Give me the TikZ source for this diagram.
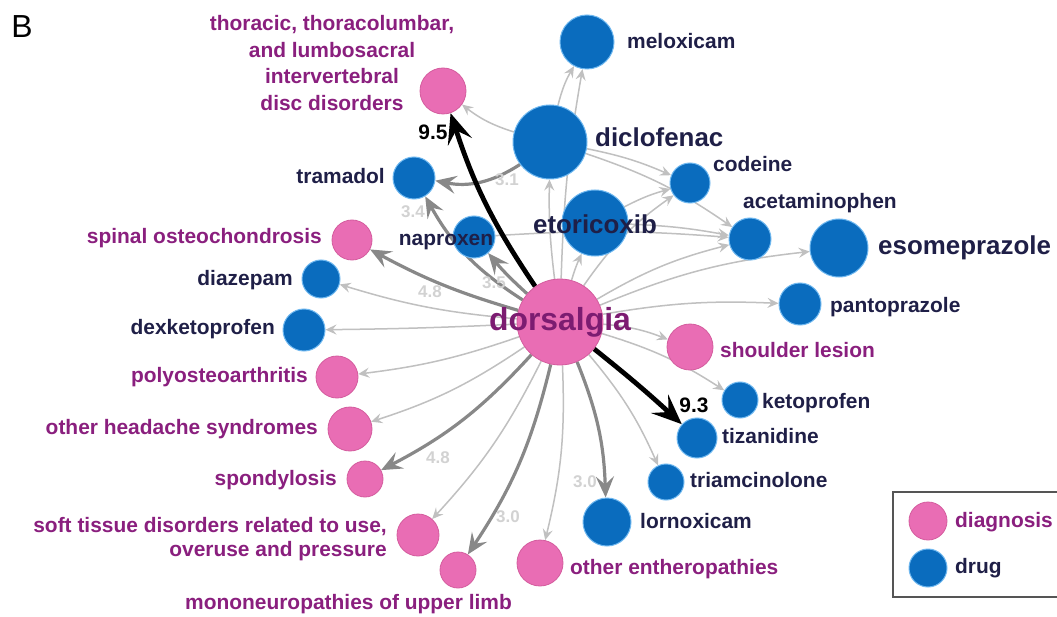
\documentclass[tikz,border=0pt]{standalone}
\usepackage{fontspec}
\setmainfont{Liberation Sans}
\usetikzlibrary{arrows.meta,backgrounds}
\definecolor{pinkF}{HTML}{E96DB4}
\definecolor{pinkD}{HTML}{D45C9E}
\definecolor{blueF}{HTML}{0A6CBE}
\definecolor{blueD}{HTML}{6FB8F0}
\definecolor{diagT}{HTML}{8A1F7E}
\definecolor{drugT}{HTML}{1F1F47}
\definecolor{lgray}{HTML}{C0C0C0}
\definecolor{mgray}{HTML}{888888}
\definecolor{wgray}{HTML}{D2D2D2}
\definecolor{boxD}{HTML}{555555}
\newcommand\labf{\fontsize{21}{25}\selectfont\bfseries}
\newcommand\bigf{\fontsize{26}{30}\selectfont\bfseries}
\newcommand\hugef{\fontsize{32}{36}\selectfont\bfseries}
\newcommand\wf{\fontsize{17}{20}\selectfont\bfseries}
\begin{document}
\begin{tikzpicture}[x=1bp,y=1bp,
  diag/.style={circle,fill=pinkF,draw=pinkD,line width=0.8bp,inner sep=0pt},
  drug/.style={circle,fill=blueF,draw=blueD,line width=1bp,inner sep=0pt},
  dl/.style={text=diagT,font=\labf,inner sep=0pt,text height=15bp,text depth=4bp},
  rl/.style={text=drugT,font=\labf,inner sep=0pt,text height=15bp,text depth=4bp},
  rlb/.style={text=drugT,font=\bigf,inner sep=0pt,text height=19bp,text depth=5bp},
  wl/.style={text=wgray,font=\wf,inner sep=0pt},
  bl/.style={text=black,font=\labf,inner sep=0pt},
  le/.style={draw=lgray,line width=1.5bp,-{Stealth[length=11bp,width=10bp,inset=4bp]}},
  me/.style={draw=mgray,line width=3.2bp,-{Stealth[length=21bp,width=18bp,inset=8bp]}},
  be/.style={draw=black,line width=4.8bp,-{Stealth[length=30bp,width=25bp,inset=12bp]}}
]
\useasboundingbox (0,0) rectangle (1057,-617);

% ---------- nodes ----------
\node[diag,minimum size=86bp] (D) at (560,-322) {};
\node[diag,minimum size=46bp] (thor) at (443,-91) {};
\node[drug,minimum size=54bp] (melox) at (587,-42) {};
\node[drug,minimum size=74bp] (diclo) at (550,-142) {};
\node[drug,minimum size=42bp] (tram) at (414,-178) {};
\node[drug,minimum size=40bp] (code) at (690,-183) {};
\node[drug,minimum size=66bp] (etor) at (595,-223) {};
\node[drug,minimum size=42bp] (napr) at (474,-237) {};
\node[drug,minimum size=42bp] (acet) at (750,-239) {};
\node[drug,minimum size=58bp] (esom) at (839,-248) {};
\node[drug,minimum size=42bp] (panto) at (800,-304) {};
\node[diag,minimum size=46bp] (shoul) at (690,-347) {};
\node[drug,minimum size=36bp] (keto) at (740,-400) {};
\node[drug,minimum size=40bp] (tiza) at (697,-438) {};
\node[drug,minimum size=36bp] (triam) at (666,-482) {};
\node[drug,minimum size=48bp] (lorno) at (607,-522) {};
\node[diag,minimum size=46bp] (entero) at (540,-563) {};
\node[diag,minimum size=36bp] (mono) at (458,-570) {};
\node[diag,minimum size=42bp] (soft) at (418,-535) {};
\node[diag,minimum size=36bp] (spond) at (365,-479) {};
\node[diag,minimum size=44bp] (heada) at (350,-429) {};
\node[diag,minimum size=42bp] (poly) at (337,-377) {};
\node[drug,minimum size=42bp] (dexk) at (304,-330) {};
\node[drug,minimum size=38bp] (diaz) at (321,-279) {};
\node[diag,minimum size=40bp] (spinal) at (352,-240) {};

% ---------- edges (behind nodes) ----------
\begin{scope}[on background layer]
\fill[white] (0,0) rectangle (1057,-617);
% light edges
\draw[le] (D) to[bend left=4] (melox);
\draw[le] (diclo) to[bend left=8] (melox);
\draw[le] (diclo) to[bend left=10] (thor);
\draw[le] (D) to[bend left=4] (diclo);
\draw[le] (D) to[bend left=4] (etor);
\draw[le] (D) to[bend left=10] (code);
\draw[le] (diclo) to[bend left=6] (code);
\draw[le] (etor) to[bend left=6] (code);
\draw[le] (diclo) to[bend left=8] (acet);
\draw[le] (etor) to[bend left=4] (acet);
\draw[le] (napr) to[bend left=4] (acet);
\draw[le] (D) to[bend left=8] (acet);
\draw[le] (D) to[bend left=8] (esom);
\draw[le] (D) to[bend left=6] (panto);
\draw[le] (D) to[bend left=8] (shoul);
\draw[le] (D) to[bend left=8] (keto);
\draw[le] (D) to[bend left=8] (triam);
\draw[le] (D) to[bend left=8] (entero);
\draw[le] (D) to[bend left=8] (soft);
\draw[le] (D) to[bend left=8] (heada);
\draw[le] (D) to[bend left=6] (poly);
\draw[le] (D) to[bend left=1] (dexk);
\draw[le] (D) to[bend left=6] (diaz);
% medium edges
\draw[me] (diclo) to[bend left=22] (tram);
\draw[me] (D) to[bend left=14] (tram);
\draw[me] (D) to[bend left=4] (napr);
\draw[me] (D) to[bend left=6] (spinal);
\draw[me] (D) to[bend left=10] (spond);
\draw[me] (D) to[bend left=10] (mono);
\draw[me] (D) to[bend left=10] (lorno);
% black edges
\draw[be] (D) to[bend left=8] (thor);
\draw[be] (D) to[bend left=2] (tiza);
\end{scope}

% ---------- labels ----------
\node[font=\fontsize{32}{36}\selectfont,inner sep=0pt] (B) at (22,-27) {B};
\node[dl,align=center,font=\fontsize{21}{27}\selectfont\bfseries,text height=,text depth=] (thorL) at (332,-63)
  {thoracic, thoracolumbar,\\and lumbosacral\\intervertebral\\disc disorders};
\node[rl,anchor=west] (meloxL) at (627,-43) {meloxicam};
\node[rlb,anchor=west] (dicloL) at (595,-140) {diclofenac};
\node[rl,anchor=east] (tramL) at (385,-178) {tramadol};
\node[rl,anchor=west] (codeL) at (713,-166) {codeine};
\node[rlb] (etorL) at (595,-227) {etoricoxib};
\node[rl] (naprL) at (446,-240) {naproxen};
\node[rl,anchor=west] (acetL) at (743,-203) {acetaminophen};
\node[rlb,anchor=west] (esomL) at (878,-248) {esomeprazole};
\node[rl,anchor=west] (pantoL) at (830,-307) {pantoprazole};
\node[dl,anchor=west] (shoulL) at (720,-352) {shoulder lesion};
\node[rl,anchor=west] (ketoL) at (762,-403) {ketoprofen};
\node[rl,anchor=west] (tizaL) at (722,-438) {tizanidine};
\node[rl,anchor=west] (triamL) at (690,-482) {triamcinolone};
\node[rl,anchor=west] (lornoL) at (640,-523) {lornoxicam};
\node[dl,anchor=west] (enteroL) at (570,-569) {other entheropathies};
\node[dl,anchor=west] (monoL) at (185,-604) {mononeuropathies of upper limb};
\node[dl,anchor=east,align=right,font=\fontsize{21}{24}\selectfont\bfseries,text height=,text depth=] (softL) at (387,-539)
  {soft tissue disorders related to use,\\overuse and pressure};
\node[dl,anchor=east] (spondL) at (337,-480) {spondylosis};
\node[dl,anchor=east] (headaL) at (318,-429) {other headache syndromes};
\node[dl,anchor=east] (polyL) at (308,-377) {polyosteoarthritis};
\node[rl,anchor=east] (dexkL) at (275,-329) {dexketoprofen};
\node[rl,anchor=east] (diazL) at (293,-280) {diazepam};
\node[dl,anchor=east] (spinalL) at (322,-238) {spinal osteochondrosis};
\node[text=diagT!90!black,font=\hugef,inner sep=0pt] (DL) at (560,-322) {dorsalgia};

% edge weights
\node[bl] (w95) at (433,-132) {9.5};
\node[bl] (w93) at (694,-405) {9.3};
\node[wl] (w31) at (507,-180) {3.1};
\node[wl] (w34) at (413,-212) {3.4};
\node[wl] (w35) at (494,-283) {3.5};
\node[wl] (w48a) at (430,-292) {4.8};
\node[wl] (w48b) at (438,-458) {4.8};
\node[wl] (w30a) at (508,-517) {3.0};
\node[wl] (w30b) at (585,-482) {3.0};

% ---------- legend ----------
\draw[boxD,line width=1.2bp] (1062,-492) -- (893,-492) -- (893,-597) -- (1062,-597);
\node[diag,minimum size=38bp] (legD) at (928,-521) {};
\node[drug,minimum size=38bp] (legR) at (928,-568) {};
\node[dl,anchor=west] (legDL) at (955,-522) {diagnosis};
\node[rl,anchor=west] (legRL) at (955,-568) {drug};
\end{tikzpicture}
\end{document}
